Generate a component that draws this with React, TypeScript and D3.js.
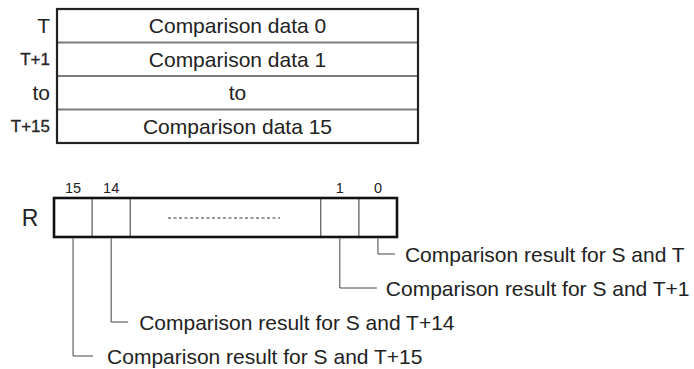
import React from 'react';
import * as d3 from 'd3';

// ---- data ----
const tableOperands = ['T', 'T+1', 'to', 'T+15'];
const tableContents = ['Comparison data 0', 'Comparison data 1', 'to', 'Comparison data 15'];
const resultName = 'R';
const headerBits = ['15', '14', '1', '0'];
const calloutBits = ['0', '1', '14', '15'];
const calloutTexts = [
  'Comparison result for S and T',
  'Comparison result for S and T+1',
  'Comparison result for S and T+14',
  'Comparison result for S and T+15',
];

// ---- layout ----
const W = 694;
const H = 369;
const FONT = "'Liberation Sans', Arial, Helvetica, sans-serif";
const table = { x0: 57, x1: 418, y0: 9, y1: 143 };
const reg = { x0: 54, x1: 397, y0: 198, y1: 237, cells: 9 };
const calloutLen = [17, 37, 17, 20];
const calloutGap = [10, 9, 11, 14];
const textSize = 21;

function cellIndex(bit: string): number {
  const b = +bit;
  return b >= 14 ? 15 - b : 8 - b;
}

export default function App() {
  const rowScale = d3.scaleBand<string>().domain(tableOperands).range([table.y0, table.y1]);
  const cellX = d3.scaleLinear().domain([0, reg.cells]).range([reg.x0, reg.x1]);
  const calloutY = d3.scaleLinear().domain([0, calloutBits.length - 1]).range([254, 356]);
  const cw = cellX(1) - cellX(0);
  const midRow = (table.x0 + table.x1) / 2;
  const dividerCells = [1, 2, 7, 8];

  return (
    <svg width={W} height={H} style={{ position: 'absolute', left: 0, top: 0, background: '#fff' }}
      fontFamily={FONT}>
      {/* top table */}
      {tableOperands.map((op, i) => {
        const y = rowScale(op)!;
        const small = op.length > 2;
        return (
          <g key={op}>
            {i > 0 && (
              <line x1={table.x0} x2={table.x1} y1={y} y2={y} stroke="#7a7a7a" strokeWidth={1.8} />
            )}
            <text x={50} y={y + rowScale.bandwidth() / 2} textAnchor="end" dominantBaseline="central"
              fontSize={small ? 17 : 21} fill="#222" stroke={small ? '#333' : 'none'} strokeWidth={0.35}>{op}</text>
            <text x={midRow} y={y + rowScale.bandwidth() / 2} textAnchor="middle" dominantBaseline="central"
              fontSize={textSize} fill="#222">{tableContents[i]}</text>
          </g>
        );
      })}
      <rect x={table.x0} y={table.y0} width={table.x1 - table.x0} height={table.y1 - table.y0}
        fill="none" stroke="#222" strokeWidth={2.2} />

      {/* register R */}
      <text x={30} y={(reg.y0 + reg.y1) / 2} textAnchor="middle" dominantBaseline="central"
        fontSize={23} fill="#222">{resultName}</text>
      {headerBits.map((b) => (
        <text key={b} x={cellX(cellIndex(b)) + cw / 2} y={193} textAnchor="middle" fontSize={14.5} fill="#222">
          {b}
        </text>
      ))}
      {dividerCells.map((c) => (
        <line key={c} x1={cellX(c)} x2={cellX(c)} y1={reg.y0} y2={reg.y1} stroke="#555" strokeWidth={1.2} />
      ))}
      <line x1={168} x2={280} y1={(reg.y0 + reg.y1) / 2 + 0.5} y2={(reg.y0 + reg.y1) / 2 + 0.5}
        stroke="#333" strokeWidth={1} strokeDasharray="3,2.5" />
      <rect x={reg.x0} y={reg.y0} width={reg.x1 - reg.x0} height={reg.y1 - reg.y0}
        fill="none" stroke="#111" strokeWidth={2.6} />

      {/* callouts */}
      {calloutBits.map((b, i) => {
        const x = cellX(cellIndex(b)) + cw / 2;
        const y = calloutY(i);
        return (
          <g key={b}>
            <path d={`M${x},${reg.y1 + 1.3}V${y}H${x + calloutLen[i]}`} fill="none" stroke="#444" strokeWidth={1} />
            <text x={x + calloutLen[i] + calloutGap[i]} y={y} dominantBaseline="central" fontSize={textSize} fill="#222">
              {calloutTexts[i]}
            </text>
          </g>
        );
      })}
    </svg>
  );
}
